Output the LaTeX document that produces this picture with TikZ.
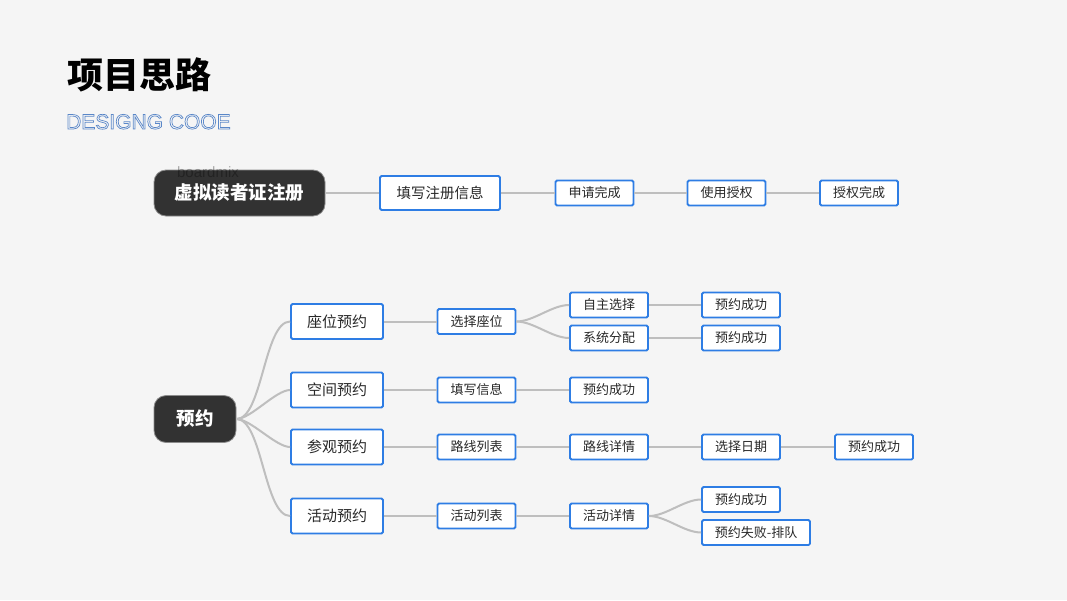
\documentclass[tikz,border=0pt]{standalone}
\usepackage{xcolor}
\usepackage{fontspec}
\usepackage{tikz}
\setmainfont{Liberation Sans}
\newfontfamily\cjk{Noto Sans CJK SC}

\definecolor{bg}{RGB}{245,245,245}
\definecolor{boxblue}{RGB}{46,125,228}
\definecolor{rootgray}{RGB}{50,50,50}
\definecolor{linkgray}{RGB}{190,190,190}
\definecolor{txt}{RGB}{40,40,40}
\definecolor{subblue}{RGB}{90,135,200}

% hollow letters for the subtitle
\newcommand{\hollow}[1]{\special{pdf:code q 1 Tr 0.7 w}#1\special{pdf:code Q}}

\begin{document}
\begin{tikzpicture}[x=1pt,y=-1pt,
    box/.style={draw=boxblue, line width=1.8pt, fill=white, rounded corners=1.5pt,
      text=txt, font=\cjk\fontsize{13}{13}\selectfont,
      minimum width=78pt, minimum height=25pt, inner sep=0pt},
    bigbox/.style={box, minimum width=92pt, minimum height=35pt,
      font=\cjk\fontsize{15}{15}\selectfont},
    root/.style={draw=black!45, line width=0.8pt, fill=rootgray, rounded corners=12pt,
      text=white, font=\cjk\bfseries\fontsize{18.5}{19}\selectfont, inner sep=0pt},
    link/.style={draw=linkgray, line width=2pt}]

        % Draw the page
        \fill[bg] (0,0) rectangle (1067,600);
        \useasboundingbox (0,0) rectangle (1067,600);

        % Add title
        \node[anchor=base west, inner sep=0pt, font=\cjk\bfseries\fontsize{36}{36}\selectfont] (title) at (67,88) {项目思路};
        \node[anchor=base west, inner sep=0pt, text=subblue, font=\fontsize{21}{21}\selectfont] (sub) at (66,129) {\hollow{DESIGNG COOE}};

        % Add registration branch
        \node[root, minimum width=171pt, minimum height=46pt] (reg) at (239.5,193) {虚拟读者证注册};
        \node[text=black, opacity=0.3, inner sep=0pt, font=\fontsize{15}{15}\selectfont] (mark) at (208,172) {boardmix};
        \node[bigbox, font=\cjk\fontsize{14.5}{15}\selectfont, minimum width=120pt, minimum height=34pt] (regform) at (440,193) {填写注册信息};
        \node[box] (apply) at (594.5,193) {申请完成};
        \node[box] (use) at (726.5,193) {使用授权};
        \node[box] (grant) at (859,193) {授权完成};

        % Add booking branch
        \node[root, minimum width=82pt, minimum height=47pt] (book) at (195,419) {预约};
        \node[bigbox] (seat) at (337,321.5) {座位预约};
        \node[bigbox] (space) at (337,390) {空间预约};
        \node[bigbox] (visit) at (337,447) {参观预约};
        \node[bigbox] (event) at (337,516) {活动预约};

        \node[box] (pick) at (476.5,321.5) {选择座位};
        \node[box] (info) at (476.5,390) {填写信息};
        \node[box] (route) at (476.5,447) {路线列表};
        \node[box] (elist) at (476.5,516) {活动列表};

        \node[box] (self) at (609,305) {自主选择};
        \node[box] (auto) at (609,338) {系统分配};
        \node[box] (spaceok) at (609,390) {预约成功};
        \node[box] (rdetail) at (609,447) {路线详情};
        \node[box] (edetail) at (609,516) {活动详情};

        \node[box] (selfok) at (741,305) {预约成功};
        \node[box] (autook) at (741,338) {预约成功};
        \node[box] (date) at (741,447) {选择日期};
        \node[box] (eventok) at (741,499.5) {预约成功};
        \node[box, minimum width=108pt] (queue) at (756,532.5) {预约失败-排队};
        \node[box] (visitok) at (874,447) {预约成功};

        % Add connectors
        \foreach \a/\b in {reg/regform, regform/apply, apply/use, use/grant,
            seat/pick, space/info, visit/route, event/elist,
            info/spaceok, route/rdetail, elist/edetail,
            self/selfok, auto/autook, rdetail/date, date/visitok}
          \draw[link] (\a) -- (\b);
        \foreach \b in {seat, space, visit, event}
          \draw[link] (book.east) to[out=0, in=180, looseness=0.6] (\b.west);
        \foreach \b in {self, auto}
          \draw[link] (pick.east) to[out=0, in=180, looseness=0.8] (\b.west);
        \foreach \b in {eventok, queue}
          \draw[link] (edetail.east) to[out=0, in=180, looseness=0.8] (\b.west);
    \end{tikzpicture}
\end{document}
